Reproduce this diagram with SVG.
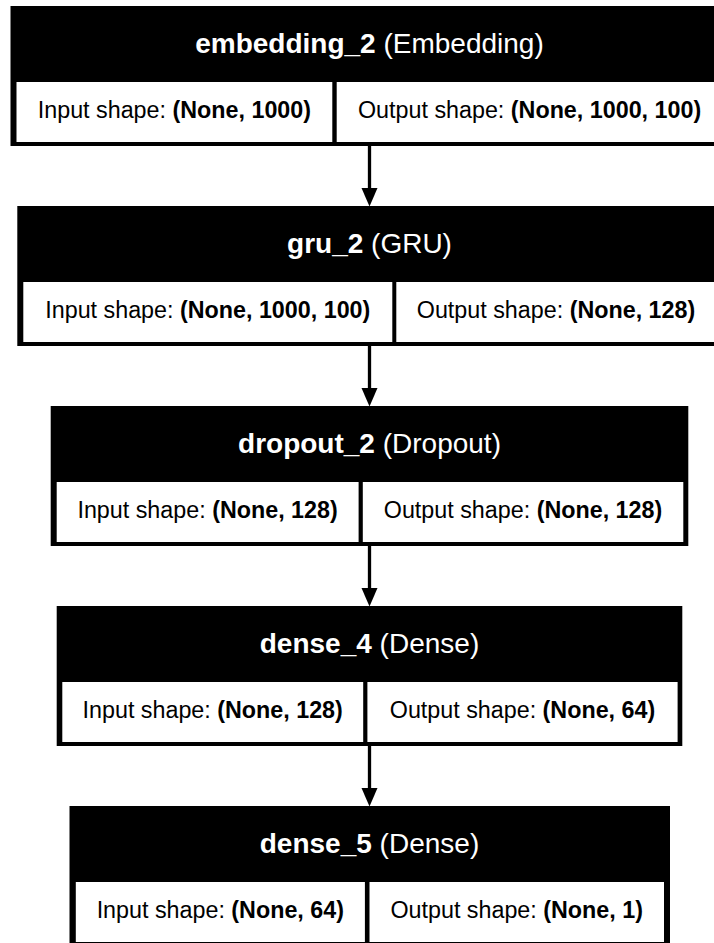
<svg xmlns="http://www.w3.org/2000/svg" width="714" height="943" viewBox="0 0 714 943">
<style>
.box{fill:#000;}
.cell{fill:#fff;}
.title{font-family:"Liberation Sans",Arial,sans-serif;font-size:28px;fill:#fff;text-anchor:middle;}
.txt{font-family:"Liberation Sans",Arial,sans-serif;font-size:23.3px;fill:#000;text-anchor:middle;}
.b{font-weight:bold;}
.edge{stroke:#000;stroke-width:3.3;fill:none;}
.head{fill:#000;}
</style>
<rect width="714" height="943" fill="#fff"/>
<g id="connectors">
<line class="edge" x1="369.5" y1="146" x2="369.5" y2="190"/>
<polygon class="head" points="361.5,188 377.5,188 369.5,206.5"/>
<line class="edge" x1="369.5" y1="346" x2="369.5" y2="390"/>
<polygon class="head" points="361.5,388 377.5,388 369.5,406.5"/>
<line class="edge" x1="369.5" y1="546" x2="369.5" y2="590"/>
<polygon class="head" points="361.5,588 377.5,588 369.5,606.5"/>
<line class="edge" x1="369.5" y1="746" x2="369.5" y2="790"/>
<polygon class="head" points="361.5,788 377.5,788 369.5,806.5"/>
</g>
<g id="embedding_2">
<rect class="box" x="10.5" y="6" width="718" height="140"/>
<rect class="cell" x="16.5" y="82" width="315.8" height="60"/>
<rect class="cell" x="336.7" y="82" width="385.8" height="60"/>
<text class="title" x="369.5" y="53"><tspan class="b">embedding_2</tspan> (Embedding)</text>
<text class="txt" x="174.4" y="117.5">Input shape: <tspan class="b">(None, 1000)</tspan></text>
<text class="txt" x="529.6" y="117.5">Output shape: <tspan class="b">(None, 1000, 100)</tspan></text>
</g>
<g id="gru_2">
<rect class="box" x="17.3" y="206" width="704.4" height="140"/>
<rect class="cell" x="23.3" y="282" width="369" height="60"/>
<rect class="cell" x="396.3" y="282" width="319.4" height="60"/>
<text class="title" x="369.5" y="253"><tspan class="b">gru_2</tspan> (GRU)</text>
<text class="txt" x="207.8" y="317.5">Input shape: <tspan class="b">(None, 1000, 100)</tspan></text>
<text class="txt" x="556" y="317.5">Output shape: <tspan class="b">(None, 128)</tspan></text>
</g>
<g id="dropout_2">
<rect class="box" x="50.7" y="406" width="637.6" height="140"/>
<rect class="cell" x="56.7" y="482" width="301.9" height="60"/>
<rect class="cell" x="362.8" y="482" width="320.5" height="60"/>
<text class="title" x="369.5" y="453"><tspan class="b">dropout_2</tspan> (Dropout)</text>
<text class="txt" x="207.6" y="517.5">Input shape: <tspan class="b">(None, 128)</tspan></text>
<text class="txt" x="523" y="517.5">Output shape: <tspan class="b">(None, 128)</tspan></text>
</g>
<g id="dense_4">
<rect class="box" x="56.7" y="606" width="625.6" height="140"/>
<rect class="cell" x="62.3" y="682" width="300.9" height="60"/>
<rect class="cell" x="367.4" y="682" width="310.2" height="60"/>
<text class="title" x="369.5" y="653"><tspan class="b">dense_4</tspan> (Dense)</text>
<text class="txt" x="212.7" y="717.5">Input shape: <tspan class="b">(None, 128)</tspan></text>
<text class="txt" x="522.5" y="717.5">Output shape: <tspan class="b">(None, 64)</tspan></text>
</g>
<g id="dense_5">
<rect class="box" x="69.5" y="806" width="600.5" height="140"/>
<rect class="cell" x="75.8" y="882" width="289.1" height="60"/>
<rect class="cell" x="369.5" y="882" width="294.5" height="60"/>
<text class="title" x="369.5" y="853"><tspan class="b">dense_5</tspan> (Dense)</text>
<text class="txt" x="220.3" y="917.5">Input shape: <tspan class="b">(None, 64)</tspan></text>
<text class="txt" x="516.7" y="917.5">Output shape: <tspan class="b">(None, 1)</tspan></text>
</g>
</svg>
